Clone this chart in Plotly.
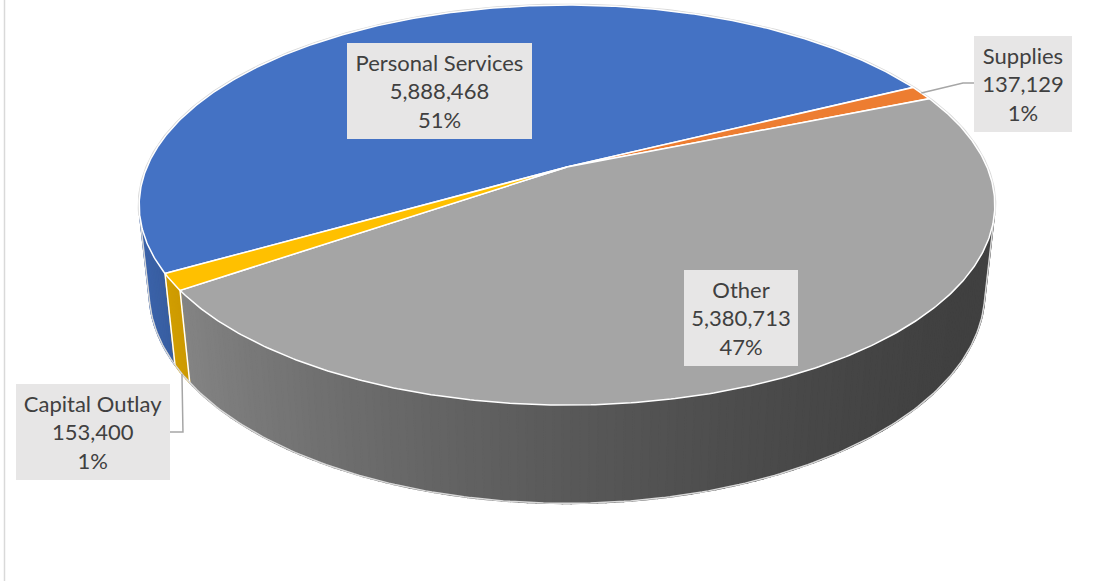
import math
import numpy as np
import plotly.graph_objects as go

# ---------------- data ----------------
categories = ["Personal Services", "Supplies", "Other", "Capital Outlay"]
values = [5888468, 137129, 5380713, 153400]
colors = ["#4472C4", "#ED7D31", "#A5A5A5", "#FFC000"]

# ---------------- 3D pie view settings (layout / style) ----------------
W, H = 1116, 581
CX, CY = 567.0, 167.0        # screen position of pie centre (pixels)
K = 420.0                    # pixel scale of unit radius
SIN_T = 0.459                # camera elevation
COS_T = math.sqrt(1 - SIN_T ** 2)
DIST = 4.67                  # perspective distance (in radii)
DEPTH = 0.234                # pie thickness (in radii)
START = 240.0                # first slice angle, clockwise from 12 o'clock
EDGE = "#FFFFFF"
OUTLINE = "#D9D9D9"
TEXT = "#404040"
BOX = "#E7E6E6"
FONT = "Lato"

label_pos = {  # centre x, centre y, width, height of callouts
    "Personal Services": (439.5, 91, 185, 96),
    "Supplies": (1023, 84, 98, 96),
    "Other": (741, 318, 114, 96),
    "Capital Outlay": (93, 432, 154, 96),
}


def proj(x, y, z):
    v = z * COS_T + y * SIN_T
    w = -y * COS_T + z * SIN_T
    s = DIST / (DIST - w)
    return CX + K * x * s, CY - K * v * s


def rim(alpha_deg, z):
    a = math.radians(alpha_deg)
    return proj(math.cos(a), math.sin(a), z)


def hex_rgb(h):
    h = h.lstrip("#")
    return [int(h[i:i + 2], 16) for i in (0, 2, 4)]


def shade(hexcol, alpha_deg):
    a = math.radians(alpha_deg)
    f = 0.67 - 0.25 * math.cos(a) + 0.13 * math.sin(a)
    r, g, b = [max(0, min(255, int(round(c * f)))) for c in hex_rgb(hexcol)]
    return f"rgb({r},{g},{b})"


total = float(sum(values))
fracs = [v / total for v in values]
pcts = [f"{round(f * 100):.0f}%" for f in fracs]

# slice intervals in world angle alpha (counter-clockwise from +x)
slices = []
cum = START
for i, f in enumerate(fracs):
    phi0, phi1 = cum, cum + f * 360.0
    cum = phi1
    a_hi, a_lo = 90.0 - phi0, 90.0 - phi1
    slices.append((a_lo, a_hi))

# visible part of the side wall
tan_lim = math.degrees(math.asin(1.0 / (DIST * COS_T)))
VIS0, VIS1 = 180.0 + tan_lim, 360.0 - tan_lim

fig = go.Figure()


def add_poly(xs, ys, fill, line_color, line_width):
    fig.add_trace(go.Scatter(
        x=xs, y=ys, mode="lines", fill="toself", fillcolor=fill,
        line=dict(color=line_color, width=line_width),
        hoverinfo="skip", showlegend=False))


def add_line(xs, ys, color, width):
    fig.add_trace(go.Scatter(
        x=xs, y=ys, mode="lines", line=dict(color=color, width=width),
        hoverinfo="skip", showlegend=False))


# ---- side wall strips ----
boundaries = []
for i, (a_lo, a_hi) in enumerate(slices):
    for k in range(-2, 3):
        lo, hi = a_lo + 360 * k, a_hi + 360 * k
        p, q = max(lo, VIS0), min(hi, VIS1)
        if q <= p:
            continue
        n = max(1, int(math.ceil(q - p)))
        edges = np.linspace(p, q, n + 1)
        for e0, e1 in zip(edges[:-1], edges[1:]):
            mid = 0.5 * (e0 + e1)
            sub = np.linspace(e0, e1, 3)
            top = [rim(a, 0.0) for a in sub]
            bot = [rim(a, -DEPTH) for a in sub[::-1]]
            pts = top + bot + [top[0]]
            col = shade(colors[i], mid)
            add_poly([pt[0] for pt in pts], [pt[1] for pt in pts], col, col, 1.6)
        for b in (lo, hi):
            if VIS0 < b < VIS1:
                boundaries.append(b)

# vertical edges between slices on the wall
for b in sorted(set(round(v, 6) for v in boundaries)):
    t, u = rim(b, 0.0), rim(b, -DEPTH)
    add_line([t[0], u[0]], [t[1], u[1]], EDGE, 1.5)

# bottom outline and silhouettes
arc = np.linspace(VIS0, VIS1, 200)
bp = [rim(a, -DEPTH) for a in arc]
add_line([p[0] for p in bp], [p[1] for p in bp], OUTLINE, 1.5)
for a in (VIS0, VIS1):
    t, u = rim(a, 0.0), rim(a, -DEPTH)
    add_line([t[0], u[0]], [t[1], u[1]], OUTLINE, 1.5)

# back outline of the top face (under the slices)
back = np.linspace(VIS1, VIS0 + 360, 300)
tp = [rim(a, 0.0) for a in back]
add_line([p[0] for p in tp], [p[1] for p in tp], OUTLINE, 3)

# ---- top faces ----
centre = proj(0.0, 0.0, 0.0)
for i, (a_lo, a_hi) in enumerate(slices):
    n = max(4, int(math.ceil((a_hi - a_lo) * 2)))
    arc_a = np.linspace(a_hi, a_lo, n + 1)
    pts = [centre] + [rim(a, 0.0) for a in arc_a] + [centre]
    add_poly([p[0] for p in pts], [p[1] for p in pts], colors[i], EDGE, 1.5)

# ---- leader lines ----
sup_mid = 0.5 * (slices[1][0] + slices[1][1])
s0 = rim(sup_mid, 0.0)
lx, ly, lw, lh = label_pos["Supplies"]
add_line([s0[0], lx - lw / 2 - 11, lx - lw / 2], [s0[1], ly - 1, ly - 1], "#A6A6A6", 1.5)

co_mid = 0.5 * (slices[3][0] + slices[3][1]) + 720
c0 = rim(co_mid, -DEPTH)
lx, ly, lw, lh = label_pos["Capital Outlay"]
add_line([c0[0], c0[0] + 1, lx + lw / 2], [c0[1], ly, ly], "#A6A6A6", 1.5)

# ---- callouts ----
for cat, v, pc in zip(categories, values, pcts):
    x, y, w, h = label_pos[cat]
    fig.add_annotation(
        x=x, y=y, xref="x", yref="y", showarrow=False,
        text=f"{cat}<br>{v:,}<br>{pc}",
        width=w, height=h, bgcolor=BOX, borderpad=0, borderwidth=0,
        align="center", valign="middle",
        font=dict(family=FONT, size=22, color=TEXT))

fig.add_shape(type="line", xref="x", yref="y", x0=4.5, x1=4.5, y0=0, y1=H,
              line=dict(color="#D9D9D9", width=1.5), layer="below")

fig.update_layout(
    width=W, height=H, margin=dict(l=0, r=0, t=0, b=0),
    paper_bgcolor="white", plot_bgcolor="white",
    xaxis=dict(range=[0, W], visible=False, fixedrange=True),
    yaxis=dict(range=[H, 0], visible=False, fixedrange=True),
    showlegend=False,
)

fig.write_html("out.html")
